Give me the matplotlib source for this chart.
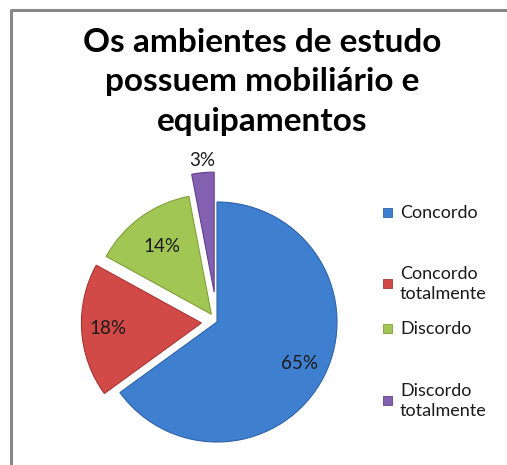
import numpy as np
import matplotlib
matplotlib.use("Agg")
import matplotlib.pyplot as plt

plt.rcParams['font.family'] = ['Lato', 'DejaVu Sans']

title = "Os ambientes de estudo\npossuem mobiliário e\nequipamentos"
categories = ["Concordo", "Concordo\ntotalmente", "Discordo", "Discordo\ntotalmente"]
values = [65, 18, 14, 3]
colors = ["#3F7FCF", "#D24A48", "#A2C653", "#8460B0"]
edges = ["#2F62A8", "#A83532", "#80A03A", "#623F8C"]
explode = [0, 0.13, 0.08, 0.25]   # fraction of radius
label_dist = [0.77, 0.78, 0.7, 1.1]

W, H = 507, 465
fig = plt.figure(figsize=(W / 100, H / 100), dpi=100)
ax = fig.add_axes([0, 0, 1, 1])

# frame (left and top only, like the cropped screenshot)
ax.plot([11, 11, W], [0, H - 10, H - 10], color="#888888", lw=2.2, solid_capstyle="butt")

R = 120
cx, cy = 217, H - 322
wedges, _ = ax.pie(values, colors=colors, explode=[e * R for e in explode],
                   startangle=90, counterclock=False, radius=R, center=(cx, cy),
                   wedgeprops=dict(linewidth=0.8), frame=True)
ax.set_xlim(0, W)
ax.set_ylim(0, H)
ax.set_aspect("equal")
ax.axis("off")
for w, ec, v, d, ex in zip(wedges, edges, values, label_dist, explode):
    w.set_edgecolor(ec)
    ang = np.deg2rad((w.theta1 + w.theta2) / 2)
    r = R * (d + ex)
    ax.text(cx + r * np.cos(ang), cy + r * np.sin(ang), f"{v}%",
            ha="center", va="center", fontsize=13.5, color="#1a1a1a")

ax.text(262, H - 82, title, ha="center", va="center", fontsize=24,
        fontweight="bold", linespacing=1.42, color="black")

legend_y = [213, 284, 329, 401]
for col, ec, y in zip(colors, edges, legend_y):
    ax.add_patch(plt.Rectangle((383, H - y - 4), 9, 9, facecolor=col, edgecolor=ec, lw=0.6))
for cat, y in zip(categories, legend_y):
    ax.text(400, H - y, cat, ha="left", va="center", fontsize=13,
            linespacing=1.35, color="#1a1a1a")

fig.savefig("out.png", dpi=100)
